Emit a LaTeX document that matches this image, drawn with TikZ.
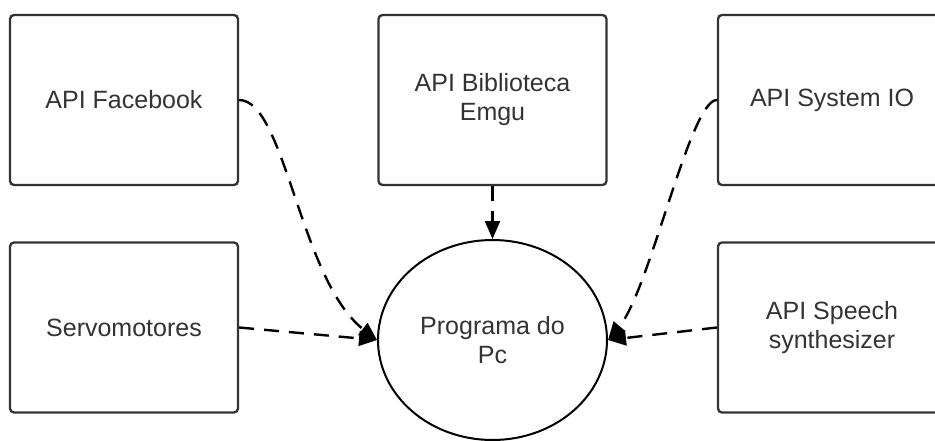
\documentclass[tikz,border=0pt]{standalone}
\usepackage{fontspec}
\setmainfont{Liberation Sans}
\usetikzlibrary{shapes.geometric,arrows.meta}
\definecolor{boxline}{HTML}{333333}
\definecolor{txt}{HTML}{333333}
\tikzset{
  apibox/.style={draw=boxline, line width=2.3pt, rounded corners=4pt, rectangle,
    minimum width=228pt, minimum height=170pt, inner sep=0pt, align=center,
    text=txt, font=\fontsize{25}{29}\selectfont},
  pcnode/.style={draw=black, line width=2pt, ellipse, minimum width=229pt,
    minimum height=200pt, inner sep=0pt, align=center, text=txt,
    font=\fontsize{25}{29}\selectfont},
  conn/.style={draw=black, line width=2.4pt, dash pattern=on 15pt off 10pt,
    -{Triangle[length=18pt,width=15pt]}}
}
\begin{document}
\begin{tikzpicture}[x=1pt,y=1pt]
\useasboundingbox (0,0) rectangle (935,440);
\clip (0,0) rectangle (935,440);
\fill[white] (0,0) rectangle (935,440);
\node[apibox] (fb) at (124,340) {API Facebook};
\node[apibox] (emgu) at (492.5,340) {API Biblioteca\\Emgu};
\node[apibox] (sysio) at (832,340) {API System IO};
\node[apibox] (servo) at (124,112.5) {Servomotores};
\node[apibox] (speech) at (832,112.5) {API Speech\\synthesizer};
\node[pcnode] (pc) at (492.5,100) {Programa do\\Pc};
\draw[conn] (fb.east) .. controls (285,340) and (300,160) .. (pc.west);
\draw[conn] (servo.east) -- (pc.west);
\draw[conn] (emgu.south) -- (pc.north);
\draw[conn] (sysio.west) .. controls (690,340) and (650,150) .. (pc.east);
\draw[conn] (speech.west) -- (pc.east);
\end{tikzpicture}
\end{document}
